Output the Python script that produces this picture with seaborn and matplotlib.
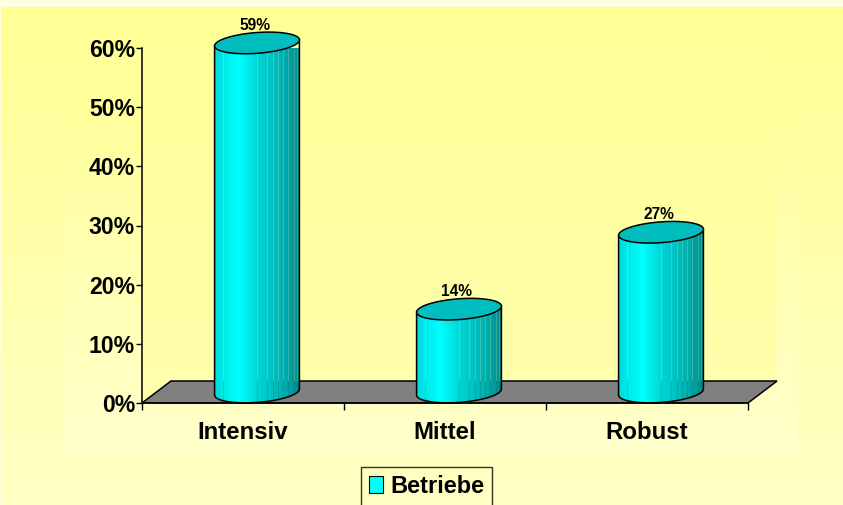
import numpy as np
import pandas as pd
import matplotlib
matplotlib.use('Agg')
import matplotlib.pyplot as plt
from matplotlib.colors import LinearSegmentedColormap
from matplotlib.patches import Polygon, Patch
import seaborn as sns

# values
categories = ['Intensiv', 'Mittel', 'Robust']
shares = [59, 14, 27]
value_labels = ['59%', '14%', '27%']
y_ticks = [0, 10, 20, 30, 40, 50, 60]
y_tick_labels = ['0%', '10%', '20%', '30%', '40%', '50%', '60%']
series_name = 'Betriebe'

sns.set_theme(style='white')
plt.rcParams['font.family'] = ['Liberation Sans', 'DejaVu Sans']
plt.rcParams['font.weight'] = 'bold'

W, H = 843, 505
fig = plt.figure(figsize=(W / 100, H / 100), dpi=100, facecolor='#FFFFE0')

# background layer, in pixel coordinates
bg = fig.add_axes([0, 0, 1, 1], zorder=0)
bg.set_xlim(0, W)
bg.set_ylim(H, 0)
bg.axis('off')


def vgrad(x0, x1, y0, y1, top, bottom, **kw):
    cmap = LinearSegmentedColormap.from_list('g', [top, bottom])
    return bg.imshow(np.linspace(0, 1, 256)[:, None], cmap=cmap, aspect='auto',
                     extent=(x0, x1, y1, y0), **kw)


vgrad(1, W, 7, H, '#FFFF94', '#FFFFC4')
vgrad(63, 797, 100, 456, '#FFFF9C', '#FFFFCC')
wall = vgrad(142, 777, 26, 403, '#FFFF98', '#FFFFAE')
wall.set_clip_path(Polygon([(142, 403), (142, 48), (171, 26), (777, 26), (777, 381), (748, 403)],
                           transform=bg.transData))
bg.add_patch(Polygon([(142, 403), (748, 403), (777, 381), (171, 381)], closed=True,
                     facecolor='#808080', edgecolor='black', lw=1.1))
bg.set_xlim(0, W)
bg.set_ylim(H, 0)

# main axes: the front plane of the 3D chart
ax = fig.add_axes([142 / W, (H - 403) / H, 606 / W, 355 / H], zorder=1)
ax.patch.set_alpha(0)

df = pd.DataFrame({'category': categories, 'share': shares})
sns.barplot(data=df, x='category', y='share', color='#00FFFF', width=0.42, ax=ax)

ax.set_xlim(-0.5, 2.5)
ax.set_ylim(0, 60)
ax.set_xlabel('')
ax.set_ylabel('')
sns.despine(ax=ax)
for s in ['left', 'bottom']:
    ax.spines[s].set_color('black')
    ax.spines[s].set_linewidth(1.1)

ax.set_yticks(y_ticks)
ax.set_yticklabels(y_tick_labels, fontsize=16.6, fontweight='bold', color='black')
ax.tick_params(axis='y', left=True, length=4, width=1, color='black', pad=1)
ax.set_xticks([-0.5, 0.5, 1.5, 2.5])
ax.set_xticklabels([])
ax.tick_params(axis='x', bottom=True, length=5, width=1, color='black')
ax.set_xticks([0, 1, 2], minor=True)
ax.set_xticklabels(categories, minor=True, fontsize=17.3, fontweight='bold', color='black')
ax.tick_params(axis='x', which='minor', bottom=False, pad=9)

# turn the flat bars into cylinders
px_x = 3 / 606
px_y = 60 / 355
gradient = LinearSegmentedColormap.from_list(
    'cyl', [(0, '#00DCDC'), (0.27, '#00FFFF'), (0.5, '#00D6D6'), (0.78, '#00B4B4'), (1, '#008C8C')])
stripe_pos = [0.1, 0.5, 0.62, 0.69, 0.75, 0.81, 0.87, 0.93, 0.97]


def ellipse(cx, cy, half_w, t):
    xs = half_w * np.cos(t)
    return cx + xs, cy + 10.4 * px_y * np.sin(t) + 3 * px_y * xs / half_w


for bar, label in zip(list(ax.patches), value_labels):
    half_w = bar.get_width() / 2
    cx = bar.get_x() + half_w + 14 * px_x
    front = bar.get_height()
    bar.set_visible(False)
    top_c = front + 11 * px_y
    base_c = 11 * px_y

    low_t = np.linspace(np.pi, 2 * np.pi, 60)
    bx, by = ellipse(cx, base_c, half_w, low_t)
    lx, ly = ellipse(cx, top_c, half_w, np.pi)
    rx, ry = ellipse(cx, top_c, half_w, 0)
    outline = [(lx, ly)] + list(zip(bx, by)) + [(rx, ry)]

    body = Polygon(outline, closed=True, facecolor='none', edgecolor='black', lw=1.1,
                   zorder=4, clip_on=False, transform=ax.transData)
    ax.add_patch(body)

    # one column per pixel so the stripes survive resampling
    n_cols = 85
    rgb = gradient(np.linspace(0, 1, n_cols))[:, :3]
    faint = rgb.copy()
    for p in stripe_pos:
        i = int(p * n_cols)
        rgb[i] = rgb[i] * 0.8 + np.array([1, 1, 0.75]) * 0.2
        faint[i] = faint[i] * 0.9
    floor_line = 22 * px_y
    for img, y0, y1 in [(rgb, floor_line, top_c + 3 * px_y), (faint, -0.2, floor_line)]:
        im = ax.imshow(img[None, :, :], aspect='auto', zorder=3, interpolation='nearest',
                       extent=(cx - half_w, cx + half_w, y0, y1), clip_on=True)
        im.set_clip_path(Polygon(outline, closed=True, transform=ax.transData))

    top_x, top_y = ellipse(cx, top_c, half_w, np.linspace(0, 2 * np.pi, 120))
    ax.add_patch(Polygon(list(zip(top_x, top_y)), closed=True, facecolor='#00BEBE',
                         edgecolor='black', lw=1.1, zorder=5, clip_on=False))
    ax.text(cx - 2 * px_x, front + 21 * px_y, label, ha='center', va='bottom',
            fontsize=11.2, fontweight='bold', color='black', zorder=6)

ax.set_xlim(-0.5, 2.5)
ax.set_ylim(0, 60)

# legend
leg = fig.legend(handles=[Patch(facecolor='#00FFFF', edgecolor='black', lw=0.8, label=series_name)],
                 loc='upper left', bbox_to_anchor=(361 / W, (H - 467) / H), bbox_transform=fig.transFigure,
                 frameon=True, fancybox=False, facecolor='none', framealpha=None, edgecolor='black',
                 labelcolor='black',
                 prop={'family': 'Liberation Sans', 'weight': 'bold', 'size': 17},
                 handlelength=0.62, handleheight=0.7, handletextpad=0.3,
                 borderpad=0.33, borderaxespad=0)
leg.get_frame().set_linewidth(1)
leg.set_zorder(5)

fig.savefig('out.png', dpi=100, facecolor=fig.get_facecolor())
